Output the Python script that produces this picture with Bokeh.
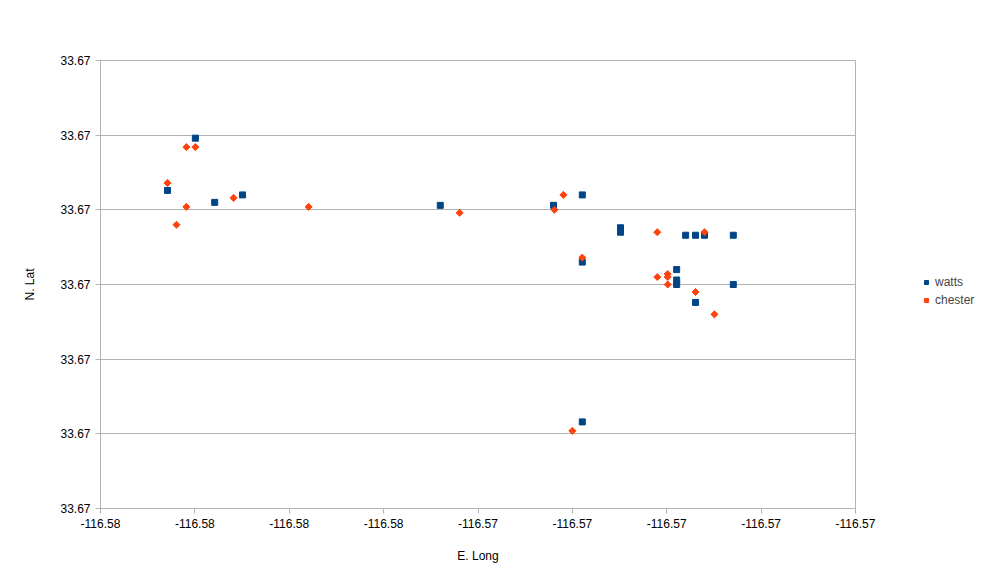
import math
from bokeh.plotting import figure
from bokeh.models import FixedTicker, PrintfTickFormatter, Legend, LegendItem
from bokeh.embed import file_html
from bokeh.resources import INLINE

# ---- data ----
watts_lon = [-116.57999, -116.58058, -116.57958, -116.57899, -116.57480, -116.57240,
             -116.57179, -116.57098, -116.57098, -116.57179, -116.56960, -116.56939,
             -116.56920, -116.56859, -116.56979, -116.56979, -116.56979, -116.56859,
             -116.56939, -116.57179]
watts_lat = [33.67248, 33.67213, 33.67205, 33.67210, 33.67203, 33.67203,
             33.67210, 33.67188, 33.67185, 33.67165, 33.67183, 33.67183,
             33.67183, 33.67183, 33.67160, 33.67153, 33.67150, 33.67150,
             33.67138, 33.67058]
chester_lon = [-116.58018, -116.57999, -116.58058, -116.57918, -116.58018, -116.57759,
               -116.58039, -116.57439, -116.57219, -116.57238, -116.57179, -116.57020,
               -116.56920, -116.56998, -116.57020, -116.56998, -116.56998, -116.56939,
               -116.56899, -116.57200]
chester_lat = [33.67242, 33.67242, 33.67218, 33.67208, 33.67202, 33.67202,
               33.67190, 33.67198, 33.67210, 33.67200, 33.67168, 33.67185,
               33.67185, 33.67157, 33.67155, 33.67155, 33.67150, 33.67145,
               33.67130, 33.67052]
x_ticks = [-116.582, -116.580, -116.578, -116.576, -116.574, -116.572, -116.570, -116.568, -116.566]
y_ticks = [33.6700, 33.6705, 33.6710, 33.6715, 33.6720, 33.6725, 33.6730]
series_names = ["watts", "chester"]
series_colors = ["#004586", "#ff420e"]

FONT = "Liberation Sans"
GRID = "#b3b3b3"

p = figure(frame_width=755, frame_height=448, output_backend="svg", toolbar_location=None,
           x_range=(x_ticks[0], x_ticks[-1]), y_range=(y_ticks[0], y_ticks[-1]),
           min_border_left=100, min_border_right=20, min_border_top=60, min_border_bottom=60)
p.background_fill_color = "white"
p.border_fill_color = "white"
p.outline_line_color = GRID

r1 = p.scatter(watts_lon, watts_lat, marker="square", size=6, color=series_colors[0])
r2 = p.scatter(chester_lon, chester_lat, marker="square", angle=math.pi / 4, size=5,
               color=series_colors[1])

for ax in (p.xaxis[0], p.yaxis[0]):
    ax.axis_line_color = GRID
    ax.major_tick_line_color = GRID
    ax.major_tick_out = 5
    ax.major_tick_in = 0
    ax.minor_tick_line_color = None
    ax.major_label_text_font = FONT
    ax.major_label_text_font_size = "12px"
    ax.major_label_text_color = "black"
    ax.major_label_standoff = 5
    ax.axis_label_text_font = FONT
    ax.axis_label_text_font_size = "12px"
    ax.axis_label_text_font_style = "normal"
    ax.axis_label_text_color = "black"

p.xaxis.ticker = FixedTicker(ticks=x_ticks)
p.yaxis.ticker = FixedTicker(ticks=y_ticks)
p.xaxis.formatter = PrintfTickFormatter(format="%.2f")
p.yaxis.formatter = PrintfTickFormatter(format="%.2f")
p.xaxis.axis_label = "E. Long"
p.yaxis.axis_label = "N. Lat"
p.xaxis.axis_label_standoff = 18
p.yaxis.axis_label_standoff = 20

p.xgrid.grid_line_color = None
p.ygrid.grid_line_color = GRID

legend = Legend(items=[LegendItem(label=series_names[0], renderers=[r1]),
                       LegendItem(label=series_names[1], renderers=[r2], index=0)],
                location=(66, 201), orientation="vertical")
legend.background_fill_alpha = 0
legend.border_line_color = None
legend.label_text_font = FONT
legend.label_text_font_size = "12px"
legend.glyph_width = 10
legend.glyph_height = 14
legend.label_height = 14
legend.label_standoff = 4
legend.spacing = 4
legend.padding = 0
legend.margin = 0
p.add_layout(legend, "right")

open("out.html", "w").write(file_html(p, INLINE))
